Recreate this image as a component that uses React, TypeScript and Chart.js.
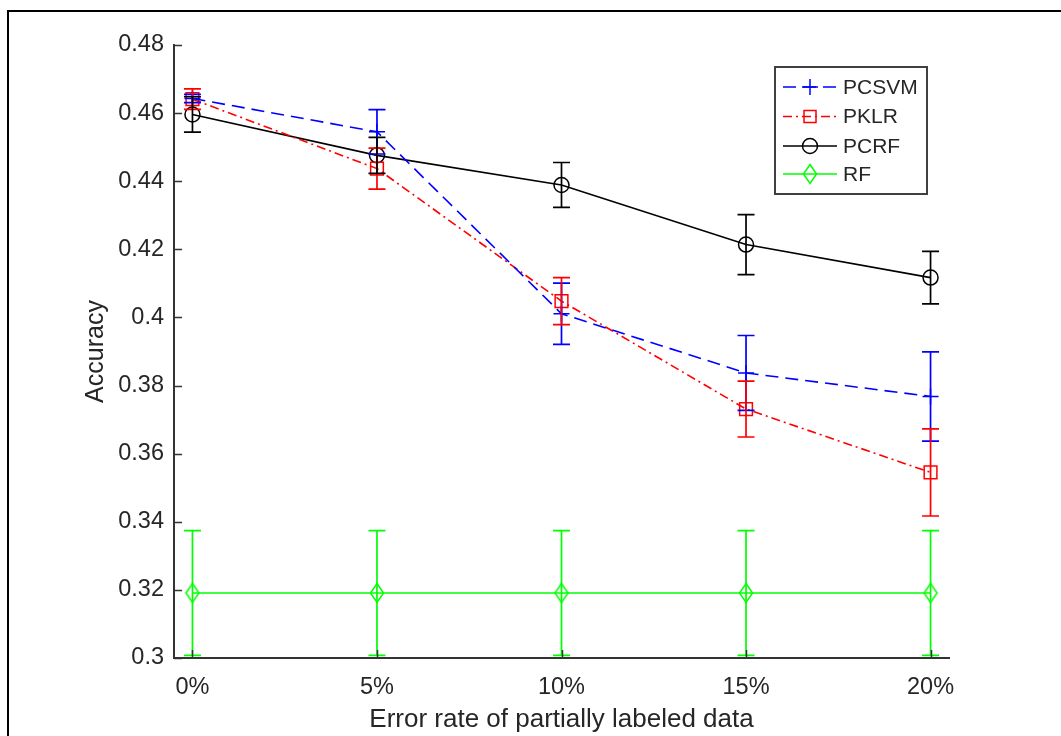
import React, { useEffect, useRef } from 'react';
import { Chart, registerables } from 'chart.js';

Chart.register(...registerables);

// ---- data ----
const errorRates = [0, 5, 10, 15, 20];
const xTickLabels = ['0%', '5%', '10%', '15%', '20%'];
const yTicks = [0.3, 0.32, 0.34, 0.36, 0.38, 0.4, 0.42, 0.44, 0.46, 0.48];
const yTickLabels = ['0.3', '0.32', '0.34', '0.36', '0.38', '0.4', '0.42', '0.44', '0.46', '0.48'];
const seriesNames = ['PCSVM', 'PKLR', 'PCRF', 'RF'];

const pcsvm = [0.4643, 0.4545, 0.4011, 0.3837, 0.3768];
const pcsvmErr = [0.0012, 0.0065, 0.009, 0.011, 0.0131];
const pklr = [0.4641, 0.4437, 0.4048, 0.3731, 0.3545];
const pklrErr = [0.003, 0.006, 0.0069, 0.0082, 0.0128];
const pcrf = [0.4596, 0.4476, 0.4389, 0.4214, 0.4117];
const pcrfErr = [0.0052, 0.0053, 0.0066, 0.0088, 0.0077];
const rf = [0.3191, 0.3191, 0.3191, 0.3191, 0.3191];
const rfErr = [0.0183, 0.0183, 0.0183, 0.0183, 0.0183];

const seriesValues = [pcsvm, pklr, pcrf, rf];
const seriesErrors = [pcsvmErr, pklrErr, pcrfErr, rfErr];
const seriesColors = ['#0000ff', '#ff0000', '#000000', '#00ff00'];
const seriesDash: number[][] = [[13, 7], [9, 4, 2, 4], [], []];

const FONT = '"Liberation Sans", Arial, Helvetica, sans-serif';
const TEXT = '#262626';
const AXIS = '#333333';

function makeDiamond(color: string): HTMLCanvasElement {
  const c = document.createElement('canvas');
  c.width = 16;
  c.height = 22;
  const g = c.getContext('2d')!;
  g.strokeStyle = color;
  g.lineWidth = 1.5;
  g.beginPath();
  g.moveTo(8, 1.5);
  g.lineTo(14.5, 11);
  g.lineTo(8, 20.5);
  g.lineTo(1.5, 11);
  g.closePath();
  g.stroke();
  return c;
}

export default function App() {
  const ref = useRef<HTMLCanvasElement | null>(null);

  useEffect(() => {
    const canvas = ref.current;
    if (!canvas) return;
    const diamond = makeDiamond('#00ff00');

    const errorBars = {
      id: 'errorBars',
      afterDatasetsDraw(chart: any) {
        const ctx = chart.ctx;
        const ys = chart.scales.y;
        ctx.save();
        chart.data.datasets.forEach((ds: any, i: number) => {
          const meta = chart.getDatasetMeta(i);
          const errs = seriesErrors[i];
          const vals = seriesValues[i];
          ctx.strokeStyle = seriesColors[i];
          ctx.lineWidth = 1.7;
          ctx.setLineDash([]);
          meta.data.forEach((pt: any, j: number) => {
            const x = pt.x;
            const yt = ys.getPixelForValue(vals[j] + errs[j]);
            const yb = ys.getPixelForValue(vals[j] - errs[j]);
            const cap = 8.5;
            ctx.beginPath();
            ctx.moveTo(x, yt);
            ctx.lineTo(x, yb);
            ctx.moveTo(x - cap, yt);
            ctx.lineTo(x + cap, yt);
            ctx.moveTo(x - cap, yb);
            ctx.lineTo(x + cap, yb);
            ctx.stroke();
          });
        });
        ctx.restore();
      },
    };

    const inwardTicks = {
      id: 'inwardTicks',
      afterDatasetsDraw(chart: any) {
        const ctx = chart.ctx;
        const { left, bottom } = chart.chartArea;
        const xs = chart.scales.x;
        const ys = chart.scales.y;
        ctx.save();
        ctx.strokeStyle = AXIS;
        ctx.lineWidth = 1.5;
        ctx.beginPath();
        ys.ticks.forEach((t: any) => {
          const y = Math.round(ys.getPixelForValue(t.value)) + 0.5;
          ctx.moveTo(left, y);
          ctx.lineTo(left + 8, y);
        });
        xs.ticks.forEach((t: any) => {
          const x = Math.round(xs.getPixelForValue(t.value)) + 0.5;
          ctx.moveTo(x, bottom);
          ctx.lineTo(x, bottom - 8);
        });
        ctx.stroke();
        ctx.restore();
      },
    };

    const legendBox = {
      id: 'legendBox',
      afterDraw(chart: any) {
        const ctx = chart.ctx;
        const { right, top } = chart.chartArea;
        const bx1 = right - 22;
        const bx0 = bx1 - 152;
        const by0 = top + 22;
        const by1 = by0 + 127;
        ctx.save();
        ctx.fillStyle = '#ffffff';
        ctx.fillRect(bx0, by0, bx1 - bx0, by1 - by0);
        ctx.strokeStyle = '#404040';
        ctx.lineWidth = 2;
        ctx.strokeRect(bx0, by0, bx1 - bx0, by1 - by0);
        const rowY = [by0 + 20, by0 + 49.5, by0 + 79, by0 + 107];
        seriesNames.forEach((name, i) => {
          const y = rowY[i];
          const lx0 = bx0 + 8;
          const lx1 = bx0 + 62;
          const mx = bx0 + 35;
          ctx.strokeStyle = seriesColors[i];
          ctx.lineWidth = 1.5;
          ctx.setLineDash(seriesDash[i]);
          ctx.beginPath();
          ctx.moveTo(lx0, y);
          ctx.lineTo(lx1, y);
          ctx.stroke();
          ctx.setLineDash([]);
          ctx.beginPath();
          if (i === 0) {
            ctx.moveTo(mx - 8, y);
            ctx.lineTo(mx + 8, y);
            ctx.moveTo(mx, y - 8);
            ctx.lineTo(mx, y + 8);
            ctx.stroke();
          } else if (i === 1) {
            ctx.strokeRect(mx - 6, y - 6, 12, 12);
          } else if (i === 2) {
            ctx.arc(mx, y, 7.5, 0, Math.PI * 2);
            ctx.stroke();
          } else {
            ctx.drawImage(diamond, mx - diamond.width / 2, y - diamond.height / 2);
          }
          ctx.fillStyle = TEXT;
          ctx.font = `21px ${FONT}`;
          ctx.textBaseline = 'middle';
          ctx.textAlign = 'left';
          ctx.fillText(name, bx0 + 68, y + 1);
        });
        ctx.restore();
      },
    };

    const pointStyles: any[] = ['cross', 'rect', 'circle', diamond];
    const pointRadii = [8, 9, 7.5, 8];

    const chart = new Chart(canvas, {
      type: 'line',
      data: {
        datasets: seriesNames.map((name, i) => ({
          label: name,
          data: errorRates.map((x, j) => ({ x, y: seriesValues[i][j] })),
          borderColor: seriesColors[i],
          backgroundColor: 'rgba(0,0,0,0)',
          borderWidth: 1.6,
          borderDash: seriesDash[i],
          tension: 0,
          fill: false,
          pointStyle: pointStyles[i],
          pointRadius: pointRadii[i],
          pointBorderColor: seriesColors[i],
          pointBackgroundColor: 'rgba(0,0,0,0)',
          pointBorderWidth: 1.5,
          order: i,
        })),
      },
      options: {
        animation: false,
        responsive: false,
        devicePixelRatio: 1,
        events: [],
        layout: { padding: { left: 0, top: 45, right: 112, bottom: 0 } },
        plugins: {
          legend: { display: false },
          tooltip: { enabled: false },
        },
        scales: {
          x: {
            type: 'linear',
            min: -0.5,
            max: 20.5,
            afterBuildTicks: (s: any) => {
              s.ticks = errorRates.map((v) => ({ value: v }));
            },
            afterFit: (s: any) => {
              s.height = 78;
            },
            grid: { display: false, drawTicks: false },
            border: { display: true, color: AXIS, width: 2 },
            ticks: {
              autoSkip: false,
              maxRotation: 0,
              padding: 15,
              color: TEXT,
              font: { family: FONT, size: 23.5 },
              callback: (v: any) => xTickLabels[errorRates.indexOf(Number(v))],
            },
            title: {
              display: true,
              text: 'Error rate of partially labeled data',
              color: TEXT,
              font: { family: FONT, size: 26 },
              padding: { top: 0, bottom: 1 },
            },
          },
          y: {
            type: 'linear',
            min: 0.3,
            max: 0.48,
            afterBuildTicks: (s: any) => {
              s.ticks = yTicks.map((v) => ({ value: v }));
            },
            afterFit: (s: any) => {
              s.width = 174;
            },
            grid: { display: false, drawTicks: false },
            border: { display: true, color: AXIS, width: 2 },
            ticks: {
              autoSkip: false,
              padding: 10,
              color: TEXT,
              font: { family: FONT, size: 23.5 },
              callback: (v: any) => {
                const k = yTicks.findIndex((t) => Math.abs(t - Number(v)) < 1e-9);
                return k >= 0 ? yTickLabels[k] : '';
              },
            },
            title: {
              display: true,
              text: 'Accuracy',
              color: TEXT,
              font: { family: FONT, size: 25 },
              padding: { top: 81, bottom: 0 },
            },
          },
        },
      },
      plugins: [errorBars, inwardTicks, legendBox],
    } as any);

    return () => chart.destroy();
  }, []);

  return (
    <div
      style={{
        position: 'absolute',
        left: 0,
        top: 0,
        width: 1061,
        height: 736,
        overflow: 'hidden',
        background: '#ffffff',
      }}
    >
      <div
        style={{
          position: 'absolute',
          left: 7,
          top: 10,
          right: -10,
          bottom: -10,
          borderLeft: '2px solid #000',
          borderTop: '2px solid #000',
        }}
      />
      <canvas
        ref={ref}
        width={1061}
        height={736}
        style={{ position: 'absolute', left: 0, top: 0, width: 1061, height: 736 }}
      />
    </div>
  );
}
